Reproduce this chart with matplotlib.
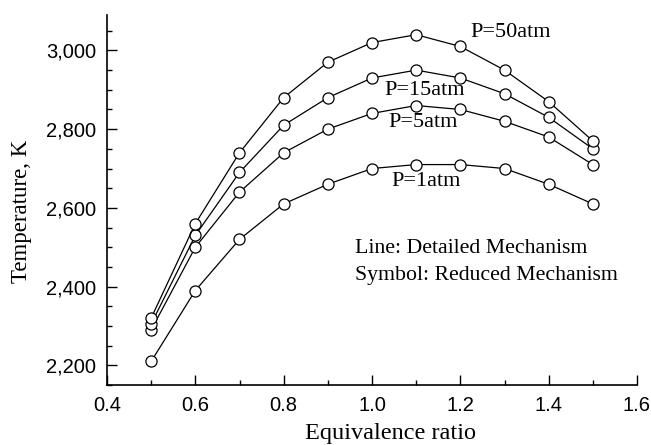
import matplotlib
matplotlib.use('Agg')
import matplotlib.pyplot as plt
from matplotlib.ticker import MultipleLocator, FuncFormatter

# ============================================================
# Data
# ============================================================

phi = [0.5, 0.6, 0.7, 0.8, 0.9, 1.0, 1.1, 1.2, 1.3, 1.4, 1.5]

t_1atm = [2210, 2390, 2520, 2610, 2660, 2700, 2710, 2710, 2700, 2660, 2610]
t_5atm = [2290, 2500, 2640, 2740, 2800, 2840, 2860, 2850, 2820, 2780, 2710]
t_15atm = [2305, 2530, 2690, 2810, 2880, 2930, 2950, 2930, 2890, 2830, 2750]
t_50atm = [2320, 2560, 2740, 2880, 2970, 3020, 3040, 3010, 2950, 2870, 2770]

series = [t_1atm, t_5atm, t_15atm, t_50atm]
series_labels = ['P=1atm', 'P=5atm', 'P=15atm', 'P=50atm']
# label anchor (left x, centre y) in data units
label_pos = [(1.043, 2666), (1.036, 2818), (1.029, 2898), (1.222, 3046)]

serif = 'Liberation Serif'
sans = 'Liberation Sans'

# ============================================================
# Plot
# ============================================================

fig = plt.figure(figsize=(6.51, 4.45), dpi=100)
ax = fig.add_axes([107 / 651, 60 / 445, 530 / 651, 370 / 445])

for temps in series:
    ax.plot(phi, temps, color='black', linewidth=0.9,
            marker='o', markersize=8, markerfacecolor='white',
            markeredgecolor='black', markeredgewidth=0.9)

for lab, (lx, ly) in zip(series_labels, label_pos):
    ax.text(lx, ly, lab, family=serif, fontsize=16, va='center', ha='left')

ax.text(0.961, 2496, 'Line: Detailed Mechanism', family=serif, fontsize=15.7,
        va='center', ha='left')
ax.text(0.961, 2428, 'Symbol: Reduced Mechanism', family=serif, fontsize=15.7,
        va='center', ha='left')

ax.set_xlim(0.4, 1.6)
ax.set_ylim(2150, 3090)

ax.xaxis.set_major_locator(MultipleLocator(0.2))
ax.xaxis.set_minor_locator(MultipleLocator(0.1))
ax.yaxis.set_major_locator(MultipleLocator(200))
ax.yaxis.set_minor_locator(MultipleLocator(50))
ax.xaxis.set_major_formatter(FuncFormatter(lambda v, p: f'{v:.1f}'))
ax.yaxis.set_major_formatter(FuncFormatter(lambda v, p: f'{v:,.0f}'))

ax.tick_params(which='both', direction='in', width=1.0)
ax.tick_params(which='major', length=7, labelsize=14.5, pad=8)
ax.tick_params(which='minor', length=3.6)
for lbl in ax.get_xticklabels() + ax.get_yticklabels():
    lbl.set_family(sans)

for side in ('top', 'right'):
    ax.spines[side].set_visible(False)
for side in ('left', 'bottom'):
    ax.spines[side].set_linewidth(1.2)

ax.set_xlabel('Equivalence ratio', family=serif, fontsize=17.5)
ax.xaxis.set_label_coords(0.534, -0.145)
ax.xaxis.label.set_va('baseline')

ax.set_ylabel('Temperature, K', family=serif, fontsize=16.5)
ax.yaxis.set_label_coords(-0.162, 0.470)
ax.yaxis.label.set_va('center')

fig.savefig('out.png', dpi=100)
